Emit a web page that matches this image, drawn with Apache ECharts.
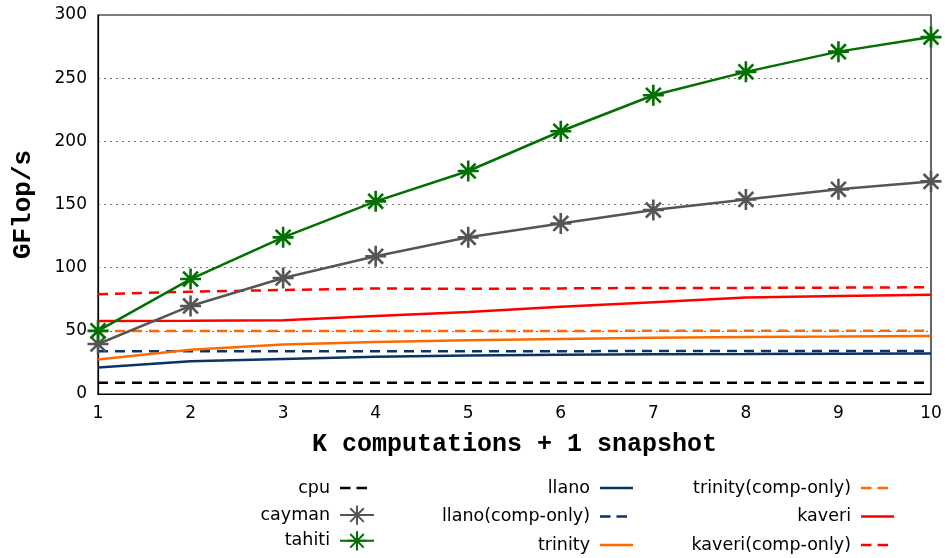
<!DOCTYPE html>
<html>
<head>
<meta charset="utf-8">
<script src="https://cdn.jsdelivr.net/npm/echarts@6/dist/echarts.min.js"></script>
<style>
  html, body { margin: 0; padding: 0; background: #fff; }
  #chart { width: 947px; height: 558px; }
</style>
</head>
<body>
<div id="chart"></div>
<script>
// K computations + 1 snapshot
const kValues = [1, 2, 3, 4, 5, 6, 7, 8, 9, 10];
const yTicks = [0, 50, 100, 150, 200, 250, 300];

// GFlop/s per device
const cpu = [9, 9, 9, 9, 9, 9, 9, 9, 9, 9];
const cayman = [39.6, 69.7, 91.8, 109, 124, 135, 145.6, 154, 162, 168.3];
const tahiti = [50, 91, 124, 152.5, 176.5, 208, 236.5, 255, 271, 282.5];
const llano = [21, 26, 27.8, 29.5, 30.5, 31, 31.5, 31.6, 31.9, 32];
const llanoComp = [33.8, 33.8, 33.8, 33.9, 33.9, 33.9, 34, 34, 34, 34];
const trinity = [27.4, 35, 39.2, 41.2, 42.6, 43.6, 44.5, 45.1, 45.5, 46];
const trinityComp = [49.8, 49.8, 49.9, 49.9, 49.9, 49.9, 50, 50, 50, 50];
const kaveri = [57.8, 58, 58.4, 61.7, 65, 69, 72.6, 76.3, 77.6, 78.6];
const kaveriComp = [79, 81, 82.3, 83.5, 83.2, 83.6, 84, 84, 84.2, 84.5];

// 8-armed asterisk marker, stroked
const starPath = 'path://M0,-10L0,10M-10,0L10,0M-7.07,-7.07L7.07,7.07M-7.07,7.07L7.07,-7.07';
const dash = [10, 7];

// Legend swatches for plain lines: tiny corner specks pin the 34x24 box,
// the visible part is a solid bar or two short dashes across the middle.
const corners = 'M0,0h0.01v0.01h-0.01zM33.99,23.99h0.01v0.01h-0.01z';
const solidIcon = 'path://' + corners + 'M0,10.8h33v2.5h-33z';
const dashedIcon = 'path://' + corners + 'M0,10.8h10.5v2.5h-10.5zM16.5,10.8h10.5v2.5h-10.5z';

function pairs(vals) { return vals.map((v, i) => [kValues[i], v]); }

function plain(name, vals, color, dashed) {
  return {
    name, type: 'line', data: pairs(vals),
    symbol: 'none', showSymbol: false,
    lineStyle: { color, width: 2.5, type: dashed ? dash : 'solid' },
    itemStyle: { color, borderWidth: 0 },
    z: 3
  };
}
function starred(name, vals, color) {
  return {
    name, type: 'line', data: pairs(vals),
    symbol: starPath, symbolSize: 21, showSymbol: true,
    lineStyle: { color, width: 2.5 },
    itemStyle: { color: color, borderColor: color, borderWidth: 2.6 },
    z: 4
  };
}

const legendBase = {
  orient: 'vertical', align: 'right', top: 476, padding: 0,
  itemWidth: 34, itemHeight: 24, itemGap: 4.5,
  textStyle: { fontFamily: 'DejaVu Sans', fontSize: 17.5, color: '#000', padding: [0, 5, 0, 0] },
  inactiveColor: '#ccc'
};
function plainItem(name, dashed) {
  return { name, icon: dashed ? dashedIcon : solidIcon, itemStyle: { borderWidth: 0 } };
}

const chart = echarts.init(document.getElementById('chart'), null, { renderer: 'canvas' });
chart.setOption({
  animation: false,
  backgroundColor: '#fff',
  grid: { left: 98, right: 16, top: 15, bottom: 164, show: true, borderColor: '#000', borderWidth: 1.2, backgroundColor: 'transparent' },
  xAxis: {
    type: 'value', min: 1, max: 10, interval: 1,
    name: 'K computations + 1 snapshot', nameLocation: 'middle', nameGap: 38,
    nameTextStyle: { fontFamily: 'Liberation Mono', fontWeight: 'bold', fontSize: 25, color: '#000' },
    axisLine: { show: true, lineStyle: { color: '#000', width: 1.2 } },
    axisTick: { show: false },
    axisLabel: { fontFamily: 'DejaVu Sans', fontSize: 17, color: '#000', margin: 11 },
    splitLine: { show: false }
  },
  yAxis: {
    type: 'value', min: 0, max: 300, interval: 50,
    name: 'GFlop/s', nameLocation: 'middle', nameGap: 62, nameRotate: 90,
    nameTextStyle: { fontFamily: 'Liberation Mono', fontWeight: 'bold', fontSize: 26, color: '#000' },
    axisLine: { show: true, lineStyle: { color: '#000', width: 1.2 } },
    axisTick: { show: false },
    axisLabel: { fontFamily: 'DejaVu Sans', fontSize: 17, color: '#000', margin: 11,
      formatter: v => (yTicks.includes(v) ? String(v) : '') },
    splitLine: { show: true, lineStyle: { color: '#777', width: 1, type: [2, 4] } }
  },
  legend: [
    Object.assign({}, legendBase, { right: 572, data: [plainItem('cpu', true), 'cayman', 'tahiti'] }),
    Object.assign({}, legendBase, { right: 313, data: [plainItem('llano', false), plainItem('llano(comp-only)', true), plainItem('trinity', false)] }),
    Object.assign({}, legendBase, { right: 52, data: [plainItem('trinity(comp-only)', true), plainItem('kaveri', false), plainItem('kaveri(comp-only)', true)] })
  ],
  series: [
    plain('cpu', cpu, '#000000', true),
    starred('cayman', cayman, '#555555'),
    starred('tahiti', tahiti, '#007000'),
    plain('llano', llano, '#0b3466', false),
    plain('llano(comp-only)', llanoComp, '#0b3466', true),
    plain('trinity', trinity, '#ff6a00', false),
    plain('trinity(comp-only)', trinityComp, '#ff6a00', true),
    plain('kaveri', kaveri, '#ff0000', false),
    plain('kaveri(comp-only)', kaveriComp, '#ff0000', true)
  ]
});
</script>
</body>
</html>
